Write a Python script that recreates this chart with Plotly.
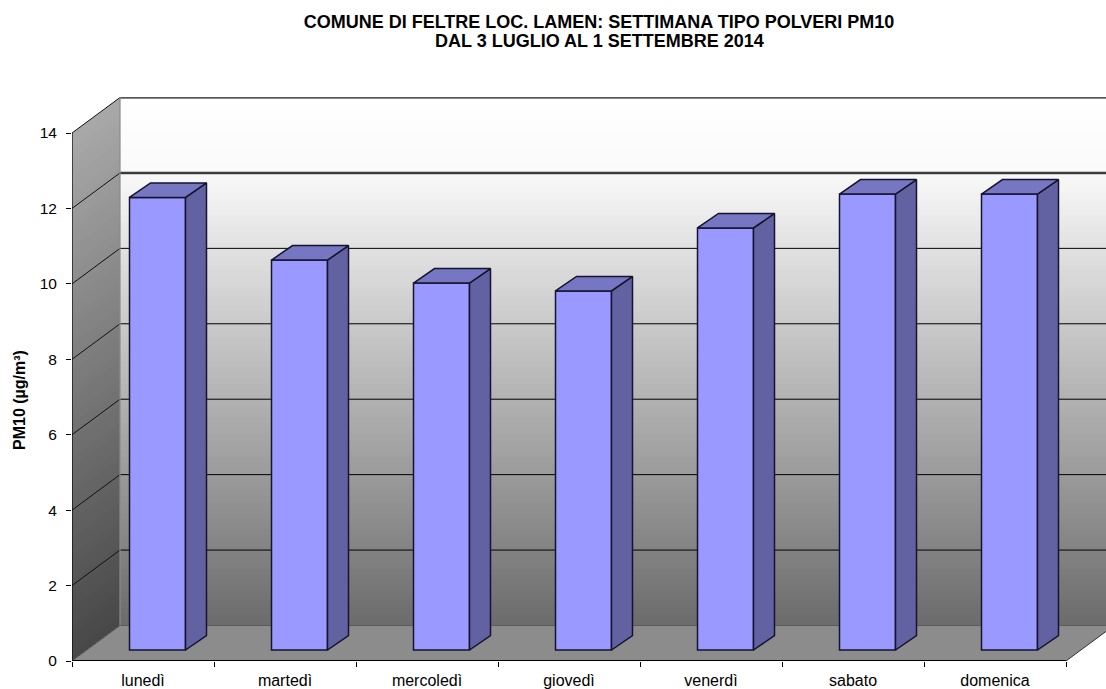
import plotly.graph_objects as go

# ---- data
days = ["lunedì", "martedì", "mercoledì", "giovedì", "venerdì", "sabato", "domenica"]
pm10 = [12.0, 10.34, 9.73, 9.52, 11.19, 12.09, 12.09]
y_ticks = [0, 2, 4, 6, 8, 10, 12, 14]
title_lines = ["COMUNE DI FELTRE LOC. LAMEN: SETTIMANA TIPO POLVERI PM10",
               "DAL 3 LUGLIO AL 1 SETTEMBRE 2014"]
y_title = "PM10 (µg/m³)"

# ---- layout of the fake 3D box (pixels per data unit, depth offsets in data units)
W, H = 1106, 689
ML, MR, MT, MB = 72, 0, 97, 28
PX_X = 142.0
PX_Y = (661 - 133) / 14
X0 = -0.5
X_END = X0 + (W - ML - MR) / PX_X
Y_END = (H - MB - MT) / PX_Y
WALL_DX = 48 / PX_X
WALL_DY = 35.5 / PX_Y
BAR_BASE = 11 / PX_Y
BAR_W = 56 / PX_X
BAR_OFF = -13.5 / PX_X
BAR_DX = 21 / PX_X
BAR_DY = 14.5 / PX_Y

FRONT = "#9999FF"
SIDE = "#6262A2"
TOP = "#7676C2"
EDGE = "#14142E"


def gray(v):
    v = int(round(max(0, min(255, v))))
    return f"rgb({v},{v},{v})"


shapes = []


def poly(xs, ys, fill, line_color=None, line_width=0):
    path = "M " + " L ".join(f"{a},{b}" for a, b in zip(xs, ys)) + " Z"
    shapes.append(dict(type="path", path=path, xref="x", yref="y", layer="below",
                       fillcolor=fill, line=dict(color=line_color or fill, width=line_width)))


def seg(x0, y0, x1, y1, color, width):
    shapes.append(dict(type="line", x0=x0, y0=y0, x1=x1, y1=y1, xref="x", yref="y",
                       layer="below", line=dict(color=color, width=width)))


# back wall: vertical gradient in bands
n = 94
for i in range(n):
    a = WALL_DY + (Y_END - WALL_DY) * i / n
    b = WALL_DY + (Y_END - WALL_DY) * (i + 1.3) / n
    px = H - MB - a * PX_Y
    shade = 108 + (626 - px) * 142 / 454
    if px < 172:
        shade = 250 + (172 - px) / 75 * 5
    poly([X0 + WALL_DX, X_END, X_END, X0 + WALL_DX], [a, a, min(b, Y_END), min(b, Y_END)], gray(shade))

# left wall: gradient in skewed bands
n = 60
for i in range(n):
    a = 14.0 * i / n
    b = min(14.0 * (i + 1.3) / n, 14.0)
    shade = 72 + 98 * a / 14
    poly([X0, X0 + WALL_DX, X0 + WALL_DX, X0], [a, a + WALL_DY, b + WALL_DY, b], gray(shade))

# floor
floor_r = X0 + 7
poly([X0, X0 + WALL_DX, floor_r + WALL_DX, floor_r], [0, WALL_DY, WALL_DY, 0], "#8C8C8C")
seg(X0 + WALL_DX, WALL_DY, X_END, WALL_DY, "#5A5A5A", 1)

# grid lines
for v in y_ticks[1:]:
    color = "#000000"
    width = 1
    if v == 12:
        color, width = "#3C3C3C", 2.5
    if v == 14:
        color, width = "#5A5A5A", 2.5
    seg(X0 + WALL_DX, v + WALL_DY, X_END, v + WALL_DY, color, width)
    seg(X0, v, X0 + WALL_DX, v + WALL_DY, "#111111", 1)
seg(X0, 0, X0 + WALL_DX, WALL_DY, "#555555", 1)
seg(X0 + WALL_DX, WALL_DY, X0 + WALL_DX, Y_END, "#8A8A8A", 1.2)

fig = go.Figure()

# front faces
fig.add_trace(go.Bar(x=list(range(len(days))), y=pm10, base=BAR_BASE, width=BAR_W, offset=BAR_OFF,
                     marker=dict(color=FRONT, line=dict(color=EDGE, width=1.5)),
                     showlegend=False, hoverinfo="skip"))

# side and top faces, built from the values
side_x, side_y, top_x, top_y = [], [], [], []
for i, v in enumerate(pm10):
    l = i + BAR_OFF
    r = l + BAR_W
    t = BAR_BASE + v
    side_x += [r, r + BAR_DX, r + BAR_DX, r, r, None]
    side_y += [BAR_BASE, BAR_BASE + BAR_DY, t + BAR_DY, t, BAR_BASE, None]
    top_x += [l, l + BAR_DX, r + BAR_DX, r, l, None]
    top_y += [t, t + BAR_DY, t + BAR_DY, t, t, None]

fig.add_trace(go.Scatter(x=side_x, y=side_y, mode="lines", fill="toself", fillcolor=SIDE,
                         line=dict(color=EDGE, width=1.5), showlegend=False, hoverinfo="skip"))
fig.add_trace(go.Scatter(x=top_x, y=top_y, mode="lines", fill="toself", fillcolor=TOP,
                         line=dict(color=EDGE, width=1.5), showlegend=False, hoverinfo="skip"))

# axis lines (they stop at the front of the box)
fig.add_trace(go.Scatter(x=[X0, X0 + 7], y=[0, 0], mode="lines", cliponaxis=False,
                         line=dict(color="#000000", width=2), showlegend=False, hoverinfo="skip"))
fig.add_trace(go.Scatter(x=[X0, X0], y=[0, 14], mode="lines", cliponaxis=False,
                         line=dict(color="#000000", width=1.2), showlegend=False, hoverinfo="skip"))
fig.add_trace(go.Scatter(x=[X0 + 7, X0 + 7 + WALL_DX], y=[0, WALL_DY], mode="lines", cliponaxis=False,
                         line=dict(color="#333333", width=1), showlegend=False, hoverinfo="skip"))

FONT = "Liberation Sans, Arial, sans-serif"
TITLE_SIZE = 18
fig.update_layout(
    width=W, height=H, margin=dict(l=ML, r=MR, t=MT, b=MB, autoexpand=False),
    paper_bgcolor="#FFFFFF", plot_bgcolor="#FFFFFF", showlegend=False,
    font=dict(family=FONT, size=16, color="#000000"),
    shapes=shapes,
    xaxis=dict(range=[X0, X_END], tickmode="array", tickvals=list(range(len(days))), ticktext=days,
               ticks="", showgrid=False, zeroline=False, showline=False, ticklabelstandoff=8,
               tickfont=dict(family=FONT, size=16, color="#000000"),
               minor=dict(tickmode="array", tickvals=[X0 + i for i in range(8)], ticks="outside",
                          ticklen=5, tickcolor="#000000", tickwidth=1, showgrid=False)),
    yaxis=dict(range=[0, Y_END], tickmode="array", tickvals=y_ticks, ticks="outside", ticklen=5,
               tickcolor="#000000", tickwidth=1, showgrid=False, zeroline=False, showline=False,
               ticklabelstandoff=6, tickfont=dict(family=FONT, size=15.5, color="#000000")),
    title=dict(text="<b>" + title_lines[0] + "</b>", x=599 / W, xanchor="center",
               y=1 - 22 / H, yanchor="middle", font=dict(family=FONT, size=TITLE_SIZE, color="#000000")),
    annotations=[
        dict(text="<b>" + title_lines[1] + "</b>", xref="paper", yref="paper",
             x=(599 - ML) / (W - ML), y=(H - MB - 41) / (H - MB - MT), xanchor="center", yanchor="middle",
             showarrow=False, font=dict(family=FONT, size=TITLE_SIZE, color="#000000")),
        dict(text="<b>" + y_title + "</b>", xref="paper", yref="paper",
             x=-53 / (W - ML), y=(H - MB - 400) / (H - MB - MT), xanchor="center", yanchor="middle",
             textangle=-90, showarrow=False, font=dict(family=FONT, size=16, color="#000000")),
    ],
)

fig.write_html("out.html", config={"displayModeBar": False}, post_script="document.body.style.margin='0';")
